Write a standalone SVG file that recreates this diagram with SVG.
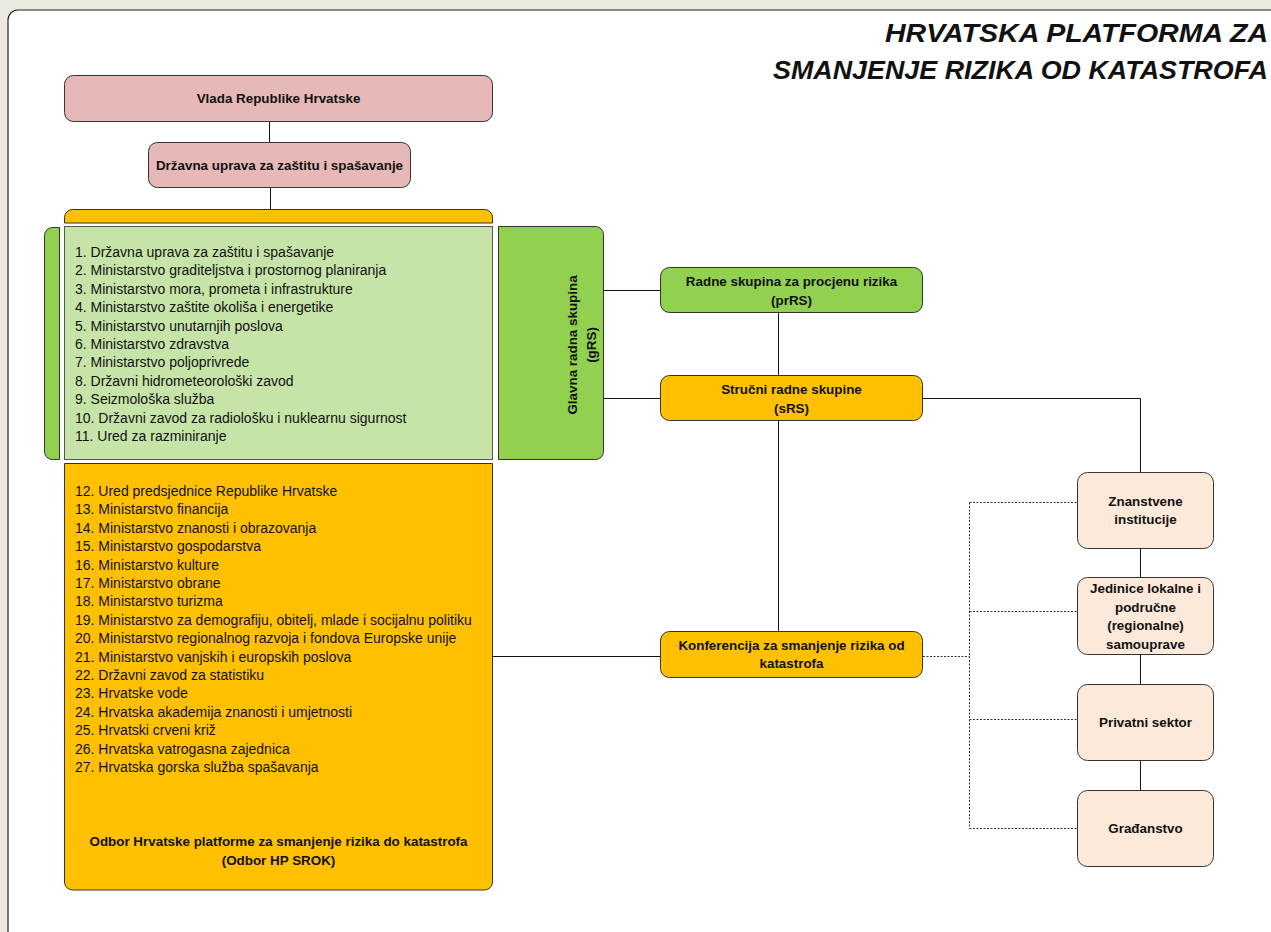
<svg xmlns="http://www.w3.org/2000/svg" width="1271" height="932" viewBox="0 0 1271 932">
<style>
text{font-family:"Liberation Sans",Arial,sans-serif;fill:#111}
.b{font-weight:bold;font-size:13.4px;text-anchor:middle}
.l{font-size:14px}
.t{font-weight:bold;font-style:italic;font-size:26px}
.box{stroke:#333;stroke-width:1}
.c{stroke:#111;stroke-width:1;fill:none}
.d{stroke:#333;stroke-width:1;fill:none;stroke-dasharray:2,1.5}
</style>
<rect x="0" y="0" width="1271" height="932" fill="#ECEAE0"/>
<rect x="8" y="10" width="1300" height="960" rx="10" fill="#fff" stroke="#222" stroke-width="1.2"/>
<g id="title">
<text class="t" x="885" y="42" textLength="383" lengthAdjust="spacingAndGlyphs">HRVATSKA PLATFORMA ZA</text>
<text class="t" x="773" y="79" textLength="495" lengthAdjust="spacingAndGlyphs">SMANJENJE RIZIKA OD KATASTROFA</text>
</g>
<g id="connectors">
<line class="c" x1="269.5" y1="122" x2="269.5" y2="142"/>
<line class="c" x1="270.5" y1="188" x2="270.5" y2="209"/>
<line class="c" x1="604" y1="290.5" x2="660" y2="290.5" stroke="#555"/>
<line class="c" x1="778.5" y1="312" x2="778.5" y2="375"/>
<line class="c" x1="604" y1="398.5" x2="660" y2="398.5"/>
<polyline class="c" points="922,398.5 1140.5,398.5 1140.5,472"/>
<line class="c" x1="778.5" y1="420" x2="778.5" y2="632"/>
<line class="c" x1="493" y1="656.5" x2="660" y2="656.5" stroke="#444"/>
<line class="c" x1="1140.5" y1="548" x2="1140.5" y2="577"/>
<line class="c" x1="1140.5" y1="654" x2="1140.5" y2="684"/>
<line class="c" x1="1140.5" y1="760" x2="1140.5" y2="790"/>
<polyline class="d" points="923,656.5 969.5,656.5"/>
<line class="d" x1="969.5" y1="502.5" x2="969.5" y2="828.5"/>
<line class="d" x1="969.5" y1="502.5" x2="1077" y2="502.5"/>
<line class="d" x1="969.5" y1="611.5" x2="1077" y2="611.5"/>
<line class="d" x1="969.5" y1="719.5" x2="1077" y2="719.5"/>
<line class="d" x1="969.5" y1="828.5" x2="1077" y2="828.5"/>
</g>
<g id="vlada">
<rect class="box" x="64.5" y="75.5" width="428" height="46" rx="9" fill="#E6B8B7"/>
<text class="b" x="278.5" y="103">Vlada Republike Hrvatske</text>
</g>
<g id="duzs">
<rect class="box" x="148.5" y="142.5" width="262" height="45" rx="9" fill="#E6B8B7"/>
<text class="b" x="279.5" y="170">Državna uprava za zaštitu i spašavanje</text>
</g>
<g id="orange-bar">
<path class="box" d="M64.5,223 V217.5 a8,8 0 0 1 8,-8 H484.5 a8,8 0 0 1 8,8 V223 Z" fill="#FFC000"/>
</g>
<g id="green-bracket">
<path class="box" d="M59.5,227.5 H52.5 a8,8 0 0 0 -8,8 V451.5 a8,8 0 0 0 8,8 H59.5 Z" fill="#92D050"/>
</g>
<g id="green-list">
<rect x="64.5" y="226.5" width="428" height="233" fill="#C6E4A8" stroke="#555" stroke-width="1"/>
<text class="l" x="75" y="257">1. Državna uprava za zaštitu i spašavanje</text>
<text class="l" x="75" y="275.4">2. Ministarstvo graditeljstva i prostornog planiranja</text>
<text class="l" x="75" y="293.8">3. Ministarstvo mora, prometa i infrastrukture</text>
<text class="l" x="75" y="312.2">4. Ministarstvo zaštite okoliša i energetike</text>
<text class="l" x="75" y="330.6">5. Ministarstvo unutarnjih poslova</text>
<text class="l" x="75" y="349">6. Ministarstvo zdravstva</text>
<text class="l" x="75" y="367.4">7. Ministarstvo poljoprivrede</text>
<text class="l" x="75" y="385.8">8. Državni hidrometeorološki zavod</text>
<text class="l" x="75" y="404.2">9. Seizmološka služba</text>
<text class="l" x="75" y="422.6">10. Državni zavod za radiološku i nuklearnu sigurnost</text>
<text class="l" x="75" y="441">11. Ured za razminiranje</text>
</g>
<g id="grs">
<path class="box" d="M498.5,226.5 H595.5 a8,8 0 0 1 8,8 V451.5 a8,8 0 0 1 -8,8 H498.5 Z" fill="#92D050"/>
<text class="b" transform="translate(577,345) rotate(-90)" x="0" y="0">Glavna radna skupina</text>
<text class="b" transform="translate(595.5,345) rotate(-90)" x="0" y="0">(gRS)</text>
</g>
<g id="prrs">
<rect class="box" x="660.5" y="267.5" width="262" height="45" rx="9" fill="#92D050"/>
<text class="b" x="791.5" y="285.5">Radne skupina za procjenu rizika</text>
<text class="b" x="791.5" y="305">(prRS)</text>
</g>
<g id="srs">
<rect class="box" x="660.5" y="375.5" width="262" height="45" rx="9" fill="#FFC000"/>
<text class="b" x="791.5" y="394">Stručni radne skupine</text>
<text class="b" x="791.5" y="413">(sRS)</text>
</g>
<g id="konferencija">
<rect class="box" x="660.5" y="631.5" width="262" height="46" rx="9" fill="#FFC000"/>
<text class="b" x="791.5" y="650">Konferencija za smanjenje rizika od</text>
<text class="b" x="791.5" y="668">katastrofa</text>
</g>
<g id="odbor">
<path class="box" d="M64.5,463.5 H492.5 V882 a8,8 0 0 1 -8,8 H72.5 a8,8 0 0 1 -8,-8 Z" fill="#FFC000"/>
<text class="l" x="75" y="496">12. Ured predsjednice Republike Hrvatske</text>
<text class="l" x="75" y="514.4">13. Ministarstvo financija</text>
<text class="l" x="75" y="532.8">14. Ministarstvo znanosti i obrazovanja</text>
<text class="l" x="75" y="551.2">15. Ministarstvo gospodarstva</text>
<text class="l" x="75" y="569.6">16. Ministarstvo kulture</text>
<text class="l" x="75" y="588">17. Ministarstvo obrane</text>
<text class="l" x="75" y="606.4">18. Ministarstvo turizma</text>
<text class="l" x="75" y="624.8">19. Ministarstvo za demografiju, obitelj, mlade i socijalnu politiku</text>
<text class="l" x="75" y="643.2">20. Ministarstvo regionalnog razvoja i fondova Europske unije</text>
<text class="l" x="75" y="661.6">21. Ministarstvo vanjskih i europskih poslova</text>
<text class="l" x="75" y="680">22. Državni zavod za statistiku</text>
<text class="l" x="75" y="698.4">23. Hrvatske vode</text>
<text class="l" x="75" y="716.8">24. Hrvatska akademija znanosti i umjetnosti</text>
<text class="l" x="75" y="735.2">25. Hrvatski crveni križ</text>
<text class="l" x="75" y="753.6">26. Hrvatska vatrogasna zajednica</text>
<text class="l" x="75" y="772">27. Hrvatska gorska služba spašavanja</text>
<text class="b" x="278.5" y="845.5">Odbor Hrvatske platforme za smanjenje rizika do katastrofa</text>
<text class="b" x="278.5" y="864.5">(Odbor HP SROK)</text>
</g>
<g id="znanstvene">
<rect class="box" x="1077.5" y="472.5" width="136" height="76" rx="10" fill="#FDE9D9"/>
<text class="b" x="1145.5" y="506">Znanstvene</text>
<text class="b" x="1145.5" y="524">institucije</text>
</g>
<g id="jedinice">
<rect class="box" x="1077.5" y="577.5" width="136" height="77" rx="10" fill="#FDE9D9"/>
<text class="b" x="1145.5" y="593">Jedinice lokalne i</text>
<text class="b" x="1145.5" y="611.5">područne</text>
<text class="b" x="1145.5" y="630">(regionalne)</text>
<text class="b" x="1145.5" y="648.5">samouprave</text>
</g>
<g id="privatni">
<rect class="box" x="1077.5" y="684.5" width="136" height="76" rx="10" fill="#FDE9D9"/>
<text class="b" x="1145.5" y="727">Privatni sektor</text>
</g>
<g id="gradjanstvo">
<rect class="box" x="1077.5" y="790.5" width="136" height="76" rx="10" fill="#FDE9D9"/>
<text class="b" x="1145.5" y="833">Građanstvo</text>
</g>
</svg>
